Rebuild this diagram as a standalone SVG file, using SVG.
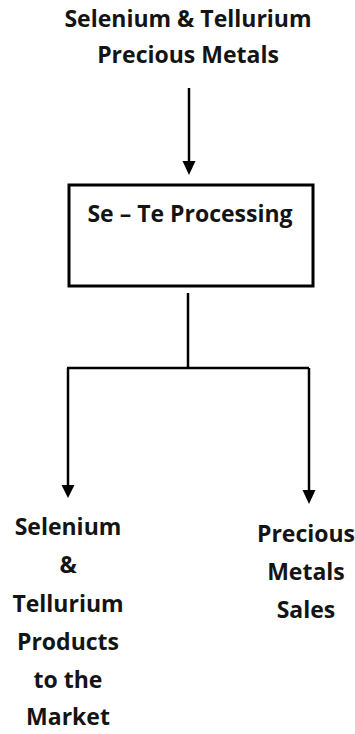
<svg xmlns="http://www.w3.org/2000/svg" width="355" height="734" viewBox="0 0 355 734">
<style>
  text { font-family: "Open Sans", "Liberation Sans", sans-serif; font-weight: bold; font-size: 23px; fill: #141414; text-anchor: middle; }
  .box { fill: #fff; stroke: #000; stroke-width: 3; }
  .line { fill: none; stroke: #000; stroke-width: 2.5; }
</style>
<rect width="355" height="734" fill="#fff"/>
<g id="source">
  <text x="188" y="27">Selenium &amp; Tellurium</text>
  <text x="188" y="63">Precious Metals</text>
</g>
<g id="processing">
  <rect class="box" x="69" y="185" width="244" height="101"/>
  <text x="190" y="222">Se – Te Processing</text>
</g>
<g id="products">
  <text x="68" y="535">Selenium</text>
  <text x="68" y="573">&amp;</text>
  <text x="68" y="612">Tellurium</text>
  <text x="68" y="650">Products</text>
  <text x="68" y="688">to the</text>
  <text x="68" y="725">Market</text>
</g>
<g id="sales">
  <text x="306" y="542">Precious</text>
  <text x="306" y="580">Metals</text>
  <text x="306" y="618">Sales</text>
</g>
<g id="connectors">
  <path class="line" d="M189,88 V162" />
  <path d="M182.5,161 H195.5 L189,175 Z" fill="#000"/>
  <path class="line" d="M188,293 V368" />
  <path class="line" d="M67,368 H309" />
  <path class="line" d="M68,368 V486" />
  <path d="M61.5,485 H74.5 L68,498 Z" fill="#000"/>
  <path class="line" d="M309,368 V491" />
  <path d="M302.5,490 H315.5 L309,504 Z" fill="#000"/>
</g>
</svg>
